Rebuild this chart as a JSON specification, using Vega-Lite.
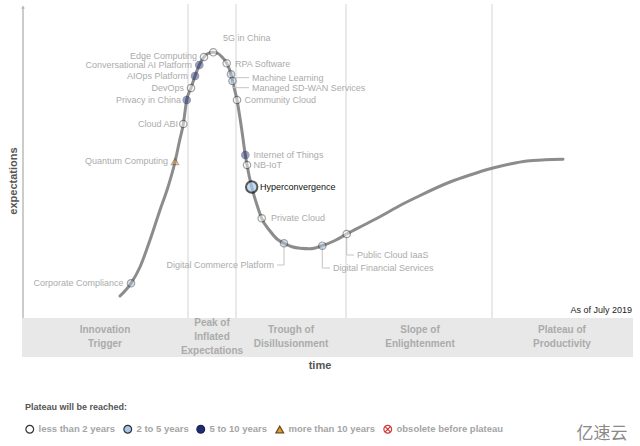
{
  "$schema": "https://vega.github.io/schema/vega-lite/v6.json",
  "width": 640,
  "height": 446,
  "autosize": {"type": "fit", "contains": "padding"},
  "padding": 0,
  "background": "white",
  "datasets": {
    "phases": [
      {"phase": "Innovation|Trigger", "start": 22, "end": 188, "mid": 105, "top": 330},
      {"phase": "Peak of|Inflated|Expectations", "start": 188, "end": 236, "mid": 212, "top": 323},
      {"phase": "Trough of|Disillusionment", "start": 236, "end": 346, "mid": 291, "top": 330},
      {"phase": "Slope of|Enlightenment", "start": 346, "end": 492, "mid": 420, "top": 330},
      {"phase": "Plateau of|Productivity", "start": 492, "end": 633, "mid": 562, "top": 330}
    ],
    "curve": [
      {"t": 120, "e": 296}, {"t": 131, "e": 283.3}, {"t": 140, "e": 267}, {"t": 150, "e": 240},
      {"t": 160, "e": 210}, {"t": 168, "e": 187}, {"t": 175, "e": 162}, {"t": 179.5, "e": 141},
      {"t": 183.3, "e": 124}, {"t": 186.7, "e": 100}, {"t": 191, "e": 88}, {"t": 195, "e": 76},
      {"t": 199.3, "e": 65}, {"t": 204, "e": 57}, {"t": 208, "e": 53.5}, {"t": 213.3, "e": 52.3},
      {"t": 218, "e": 53.5}, {"t": 222, "e": 57}, {"t": 226.7, "e": 63.3}, {"t": 231, "e": 74.3},
      {"t": 232.5, "e": 81}, {"t": 237, "e": 100}, {"t": 241.5, "e": 128}, {"t": 245.3, "e": 155},
      {"t": 247, "e": 165}, {"t": 251.7, "e": 187}, {"t": 257, "e": 205}, {"t": 261.7, "e": 218.3},
      {"t": 270, "e": 231}, {"t": 277, "e": 239}, {"t": 284, "e": 243.3}, {"t": 292, "e": 246.8},
      {"t": 300, "e": 248.3}, {"t": 310, "e": 248.8}, {"t": 322.3, "e": 245.7}, {"t": 335, "e": 240.5},
      {"t": 346.7, "e": 234}, {"t": 365, "e": 224.5}, {"t": 383, "e": 215}, {"t": 400, "e": 205.5},
      {"t": 417, "e": 197}, {"t": 450, "e": 182}, {"t": 470, "e": 175}, {"t": 492, "e": 168.3},
      {"t": 510, "e": 164}, {"t": 527, "e": 161}, {"t": 545, "e": 159.8}, {"t": 563, "e": 159.3}
    ],
    "techs": [
      {"name": "Corporate Compliance", "t": 131, "e": 283.3, "cat": "2 to 5 years", "lx": 126.5, "ly": 283, "side": "L", "conn": false},
      {"name": "Quantum Computing", "t": 175, "e": 161.5, "cat": "more than 10 years", "lx": 171, "ly": 161, "side": "L", "conn": false},
      {"name": "Cloud ABI", "t": 183.3, "e": 124, "cat": "less than 2 years", "lx": 181, "ly": 124, "side": "L", "conn": false},
      {"name": "Privacy in China", "t": 186.7, "e": 100, "cat": "5 to 10 years", "lx": 184, "ly": 100, "side": "L", "conn": false},
      {"name": "DevOps", "t": 191, "e": 88, "cat": "less than 2 years", "lx": 187, "ly": 88, "side": "L", "conn": false},
      {"name": "AIOps Platform", "t": 195, "e": 76, "cat": "5 to 10 years", "lx": 191, "ly": 76, "side": "L", "conn": false},
      {"name": "Conversational AI Platform", "t": 199.3, "e": 65, "cat": "5 to 10 years", "lx": 195, "ly": 64.5, "side": "L", "conn": false},
      {"name": "Edge Computing", "t": 204, "e": 57, "cat": "less than 2 years", "lx": 200, "ly": 56, "side": "L", "conn": false},
      {"name": "5G in China", "t": 213.3, "e": 52.3, "cat": "less than 2 years", "lx": 220, "ly": 38, "side": "R", "conn": false},
      {"name": "RPA Software", "t": 226.7, "e": 63.3, "cat": "less than 2 years", "lx": 232, "ly": 63.7, "side": "R", "conn": false},
      {"name": "Machine Learning", "t": 231, "e": 74.3, "cat": "2 to 5 years", "lx": 249, "ly": 77.7, "side": "R", "conn": true},
      {"name": "Managed SD-WAN Services", "t": 232.5, "e": 81, "cat": "2 to 5 years", "lx": 249, "ly": 87.7, "side": "R", "conn": true},
      {"name": "Community Cloud", "t": 237, "e": 100, "cat": "less than 2 years", "lx": 241.5, "ly": 100.3, "side": "R", "conn": false},
      {"name": "Internet of Things", "t": 245.3, "e": 155, "cat": "5 to 10 years", "lx": 250.5, "ly": 155, "side": "R", "conn": false},
      {"name": "NB-IoT", "t": 247, "e": 165, "cat": "less than 2 years", "lx": 250.5, "ly": 165, "side": "R", "conn": false},
      {"name": "Hyperconvergence", "t": 251.7, "e": 187, "cat": "2 to 5 years", "lx": 257, "ly": 187, "side": "H", "conn": false},
      {"name": "Private Cloud", "t": 261.7, "e": 218.3, "cat": "less than 2 years", "lx": 268, "ly": 218, "side": "R", "conn": false},
      {"name": "Digital Commerce Platform", "t": 284, "e": 243.3, "cat": "2 to 5 years", "lx": 277, "ly": 265, "side": "L", "conn": true},
      {"name": "Digital Financial Services", "t": 322.3, "e": 245.7, "cat": "2 to 5 years", "lx": 330, "ly": 268, "side": "R", "conn": true},
      {"name": "Public Cloud IaaS", "t": 346.7, "e": 234, "cat": "less than 2 years", "lx": 354, "ly": 255, "side": "R", "conn": true}
    ],
    "notes": [
      {"text": "time", "t": 320, "e": 366, "kind": "time"},
      {"text": "expectations", "t": 14, "e": 181, "kind": "yaxis"},
      {"text": "As of July 2019", "t": 632, "e": 310, "kind": "asof"},
      {"text": "亿速云", "t": 602, "e": 434, "kind": "mark"}
    ]
  },
  "layer": [
    {
      "data": {"name": "phases"},
      "mark": {"type": "rect", "color": "#e8e8e8"},
      "encoding": {
        "x": {"field": "start", "type": "quantitative", "scale": {"domain": [0, 640], "nice": false, "zero": false}, "axis": null},
        "x2": {"field": "end"},
        "y": {"datum": 318, "type": "quantitative", "scale": {"domain": [0, 446], "nice": false, "zero": false, "reverse": true}, "axis": null},
        "y2": {"datum": 357}
      }
    },
    {
      "data": {"name": "phases"},
      "transform": [{"filter": "datum.end < 600"}],
      "mark": {"type": "rule", "color": "#d4d4d4", "strokeWidth": 1},
      "encoding": {
        "x": {"field": "end", "type": "quantitative"},
        "y": {"datum": 4, "type": "quantitative"},
        "y2": {"datum": 318}
      }
    },
    {
      "data": {"values": [{"t": 23}]},
      "mark": {"type": "rule", "color": "#999999", "strokeWidth": 1},
      "encoding": {
        "x": {"field": "t", "type": "quantitative"},
        "y": {"datum": 8, "type": "quantitative"},
        "y2": {"datum": 318}
      }
    },
    {
      "data": {"values": [{"t": 23}]},
      "mark": {"type": "point", "shape": "triangle-up", "filled": true, "color": "#999999", "size": 14},
      "encoding": {
        "x": {"field": "t", "type": "quantitative"},
        "y": {"datum": 7, "type": "quantitative"}
      }
    },
    {
      "data": {"name": "curve"},
      "mark": {"type": "line", "color": "#8c8c8c", "strokeWidth": 3, "interpolate": "monotone", "strokeCap": "round"},
      "encoding": {
        "x": {"field": "t", "type": "quantitative"},
        "y": {"field": "e", "type": "quantitative"}
      }
    },
    {
      "data": {"name": "techs"},
      "transform": [{"filter": "datum.conn"}],
      "mark": {"type": "rule", "color": "#c4c4c4", "strokeWidth": 1},
      "encoding": {
        "x": {"field": "t", "type": "quantitative"},
        "y": {"field": "e", "type": "quantitative"},
        "y2": {"field": "ly"}
      }
    },
    {
      "data": {"name": "techs"},
      "transform": [{"filter": "datum.conn"}],
      "mark": {"type": "rule", "color": "#c4c4c4", "strokeWidth": 1},
      "encoding": {
        "x": {"field": "t", "type": "quantitative"},
        "x2": {"field": "lx"},
        "y": {"field": "ly", "type": "quantitative"}
      }
    },
    {
      "data": {"name": "techs"},
      "transform": [{"filter": "datum.side != 'H'"}],
      "mark": {"type": "point", "filled": true, "opacity": 0.45, "size": 55, "strokeWidth": 1.2},
      "encoding": {
        "x": {"field": "t", "type": "quantitative"},
        "y": {"field": "e", "type": "quantitative"},
        "shape": {
          "field": "cat", "type": "nominal",
          "scale": {
            "domain": ["less than 2 years", "2 to 5 years", "5 to 10 years", "more than 10 years", "obsolete before plateau"],
            "range": ["circle", "circle", "circle", "triangle-up", "M-1,0A1,1 0 1,1 1,0A1,1 0 1,1 -1,0Z M-0.6,-0.6L0.6,0.6 M-0.6,0.6L0.6,-0.6"]
          },
          "legend": {"title": "Plateau will be reached:"}
        },
        "fill": {
          "field": "cat", "type": "nominal",
          "scale": {
            "domain": ["less than 2 years", "2 to 5 years", "5 to 10 years", "more than 10 years", "obsolete before plateau"],
            "range": ["#ffffff", "#a9c8e8", "#1f2d6e", "#e09a3e", "#ffffff"]
          },
          "legend": {"title": "Plateau will be reached:"}
        },
        "stroke": {
          "field": "cat", "type": "nominal",
          "scale": {
            "domain": ["less than 2 years", "2 to 5 years", "5 to 10 years", "more than 10 years", "obsolete before plateau"],
            "range": ["#333333", "#333333", "#1a255c", "#6b4a1a", "#d03a3a"]
          },
          "legend": {"title": "Plateau will be reached:"}
        }
      }
    },
    {
      "data": {"name": "techs"},
      "transform": [{"filter": "datum.side == 'H'"}],
      "mark": {"type": "point", "shape": "circle", "filled": true, "fill": "#a6cdee", "stroke": "#111111", "strokeWidth": 2, "size": 130},
      "encoding": {
        "x": {"field": "t", "type": "quantitative"},
        "y": {"field": "e", "type": "quantitative"}
      }
    },
    {
      "data": {"name": "techs"},
      "transform": [{"filter": "datum.side == 'L'"}],
      "mark": {"type": "text", "align": "right", "baseline": "middle", "dx": -3, "fontSize": 9, "color": "#ababab"},
      "encoding": {
        "x": {"field": "lx", "type": "quantitative"},
        "y": {"field": "ly", "type": "quantitative"},
        "text": {"field": "name"}
      }
    },
    {
      "data": {"name": "techs"},
      "transform": [{"filter": "datum.side == 'R'"}],
      "mark": {"type": "text", "align": "left", "baseline": "middle", "dx": 3, "fontSize": 9, "color": "#ababab"},
      "encoding": {
        "x": {"field": "lx", "type": "quantitative"},
        "y": {"field": "ly", "type": "quantitative"},
        "text": {"field": "name"}
      }
    },
    {
      "data": {"name": "techs"},
      "transform": [{"filter": "datum.side == 'H'"}],
      "mark": {"type": "text", "align": "left", "baseline": "middle", "dx": 3, "fontSize": 9, "color": "#111111"},
      "encoding": {
        "x": {"field": "lx", "type": "quantitative"},
        "y": {"field": "ly", "type": "quantitative"},
        "text": {"field": "name"}
      }
    },
    {
      "data": {"name": "phases"},
      "mark": {"type": "text", "align": "center", "baseline": "middle", "lineBreak": "|", "lineHeight": 14, "fontSize": 10, "fontWeight": "bold", "color": "#ababab"},
      "encoding": {
        "x": {"field": "mid", "type": "quantitative"},
        "y": {"field": "top", "type": "quantitative"},
        "text": {"field": "phase"}
      }
    },
    {
      "data": {"name": "notes"},
      "transform": [{"filter": "datum.kind == 'time'"}],
      "mark": {"type": "text", "align": "center", "baseline": "middle", "fontSize": 11, "fontWeight": "bold", "color": "#555555"},
      "encoding": {
        "x": {"field": "t", "type": "quantitative"},
        "y": {"field": "e", "type": "quantitative"},
        "text": {"field": "text"}
      }
    },
    {
      "data": {"name": "notes"},
      "transform": [{"filter": "datum.kind == 'yaxis'"}],
      "mark": {"type": "text", "align": "center", "baseline": "middle", "angle": 270, "fontSize": 11, "fontWeight": "bold", "color": "#555555"},
      "encoding": {
        "x": {"field": "t", "type": "quantitative"},
        "y": {"field": "e", "type": "quantitative"},
        "text": {"field": "text"}
      }
    },
    {
      "data": {"name": "notes"},
      "transform": [{"filter": "datum.kind == 'asof'"}],
      "mark": {"type": "text", "align": "right", "baseline": "middle", "fontSize": 9, "color": "#222222"},
      "encoding": {
        "x": {"field": "t", "type": "quantitative"},
        "y": {"field": "e", "type": "quantitative"},
        "text": {"field": "text"}
      }
    },
    {
      "data": {"name": "notes"},
      "transform": [{"filter": "datum.kind == 'mark'"}],
      "mark": {"type": "text", "align": "center", "baseline": "middle", "fontSize": 17, "font": "Noto Sans CJK SC", "color": "#8a8a8a"},
      "encoding": {
        "x": {"field": "t", "type": "quantitative"},
        "y": {"field": "e", "type": "quantitative"},
        "text": {"field": "text"}
      }
    }
  ],
  "resolve": {"scale": {"x": "shared", "y": "shared"}},
  "config": {
    "view": {"stroke": null},
    "font": "Liberation Sans",
    "legend": {
      "orient": "none",
      "legendX": 25,
      "legendY": 403,
      "direction": "horizontal",
      "titleFontSize": 9,
      "titleFontWeight": "bold",
      "titleColor": "#555555",
      "titleFont": "Liberation Sans",
      "titlePadding": 12,
      "labelFontSize": 9.5,
      "labelFontWeight": "bold",
      "labelColor": "#a5a5a5",
      "labelFont": "Liberation Sans",
      "symbolSize": 60,
      "symbolStrokeWidth": 1.2,
      "symbolOpacity": 1,
      "labelOffset": 4,
      "columnPadding": 5,
      "labelLimit": 200
    }
  }
}
